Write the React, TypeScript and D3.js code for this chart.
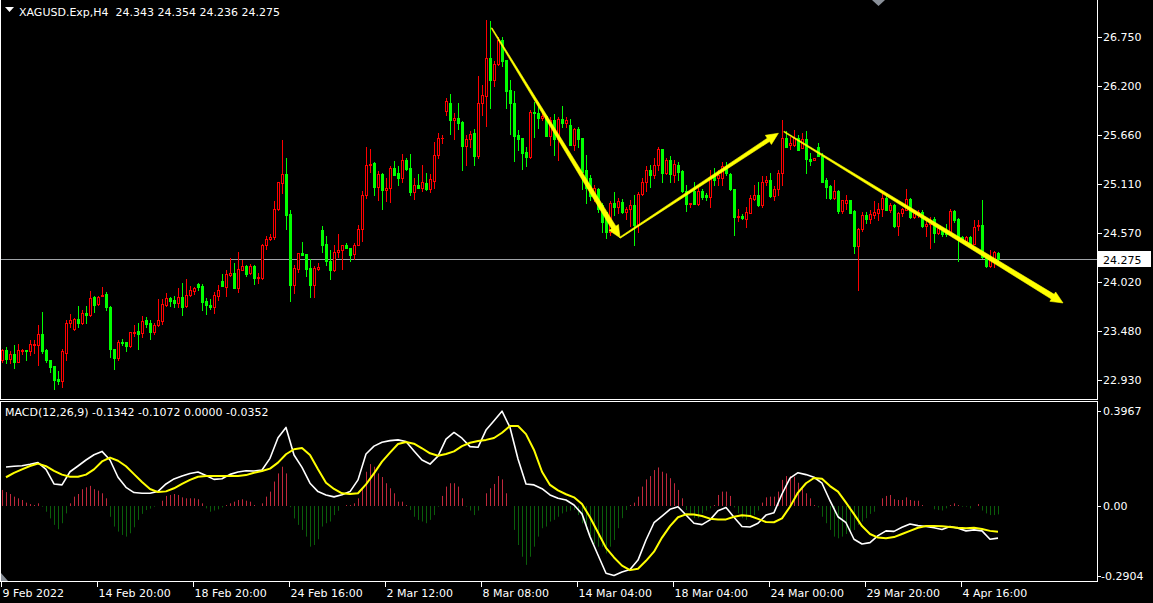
import React from 'react';
import * as d3 from 'd3';

const W = 1153;
const H = 603;

const opens = [
23.15,23.26,23.16,23.22,23.13,23.25,23.26,23.25,23.32,23.32,
23.44,23.26,23.15,23.09,22.94,22.92,23.23,23.56,23.50,23.61,
23.57,23.68,23.65,23.85,23.78,23.86,23.89,23.74,23.28,23.18,
23.35,23.35,23.31,23.45,23.48,23.45,23.60,23.57,23.47,23.54,
23.59,23.77,23.84,23.82,23.79,23.85,23.75,23.88,23.92,24.00,
23.98,23.81,23.77,23.74,23.87,24.03,23.97,24.10,24.12,23.96,
24.16,24.20,24.12,24.20,24.07,24.07,24.43,24.50,24.52,24.83,
25.12,25.22,24.78,23.99,24.17,24.34,24.33,24.18,23.99,24.17,
24.60,24.44,24.26,24.16,24.35,24.38,24.43,24.40,24.33,24.43,
24.61,24.99,25.33,25.35,25.08,25.22,25.05,25.07,25.29,25.23,
25.18,25.38,25.29,25.02,25.10,25.07,25.12,25.06,25.15,25.44,
25.62,25.93,26.02,25.83,25.85,25.80,25.54,25.61,25.68,25.43,
26.01,26.09,26.52,26.27,26.45,26.72,26.49,26.16,26.02,25.66,
25.62,25.47,25.41,25.91,25.90,25.85,25.87,25.65,25.83,25.61,
25.84,25.79,25.77,25.55,25.73,25.62,25.27,25.18,24.98,25.06,
24.88,24.80,24.58,24.90,24.86,24.91,24.80,24.84,24.88,24.66,
25.00,25.13,25.27,25.21,25.33,25.50,25.24,25.38,25.21,25.32,
25.26,25.04,24.89,25.03,24.89,25.03,24.99,24.97,25.20,25.18,
25.18,25.31,25.22,25.06,24.74,24.76,24.72,24.79,24.95,24.99,
24.88,25.13,25.16,24.98,25.06,25.23,25.62,25.55,25.55,25.63,
25.51,25.61,25.39,25.38,25.52,25.42,25.16,25.09,24.96,25.04,
24.81,24.90,24.94,24.81,24.42,24.61,24.77,24.72,24.77,24.79,
24.83,24.96,24.82,24.88,24.64,24.79,24.82,24.95,24.74,24.78,
24.80,24.64,24.67,24.72,24.57,24.59,24.58,24.56,24.81,24.72,
24.52,24.48,24.52,24.45,24.64,24.66,24.30,24.20,24.24,24.343,
];

const highs = [
23.28,23.30,23.25,23.32,23.33,23.28,23.26,23.37,23.37,23.54,
23.69,23.27,23.15,23.09,23.03,23.27,23.60,23.66,23.62,23.75,
23.71,23.75,23.92,23.87,23.87,23.97,23.91,23.75,23.28,23.38,
23.39,23.35,23.47,23.54,23.57,23.64,23.63,23.60,23.56,23.83,
23.83,23.90,23.85,23.87,23.96,24.01,24.06,23.98,23.97,24.01,
24.00,23.84,23.83,23.91,23.99,24.11,24.15,24.29,24.23,24.35,
24.27,24.21,24.22,24.21,24.12,24.45,24.53,24.56,24.92,25.14,
25.60,25.40,24.82,24.21,24.34,24.47,24.33,24.28,24.20,24.23,
24.64,24.53,24.38,24.43,24.56,24.43,24.46,24.40,24.46,24.66,
25.03,25.52,25.50,25.36,25.26,25.23,25.18,25.31,25.37,25.31,
25.45,25.40,25.45,25.18,25.22,25.33,25.23,25.22,25.58,25.68,
25.66,26.07,26.12,25.90,26.01,25.81,25.66,25.70,25.73,26.32,
26.22,26.94,26.93,26.48,26.75,26.75,26.49,26.27,26.15,25.71,
25.62,25.52,25.94,26.03,26.03,25.92,25.88,25.86,25.89,25.86,
25.98,25.86,25.84,25.74,25.75,25.63,25.44,25.21,25.10,25.07,
24.90,24.80,24.92,25.02,24.96,24.95,24.86,24.94,24.99,25.02,
25.18,25.31,25.33,25.40,25.53,25.50,25.40,25.42,25.38,25.36,
25.27,25.10,24.90,25.13,25.07,25.06,25.01,25.27,25.29,25.27,
25.36,25.36,25.23,25.06,24.84,24.78,24.86,24.99,25.10,25.14,
25.20,25.20,25.23,25.09,25.27,25.83,25.70,25.64,25.71,25.66,
25.68,25.70,25.46,25.40,25.57,25.46,25.18,25.10,25.16,25.05,
24.94,24.99,24.94,24.82,24.62,24.80,24.80,24.82,24.92,24.90,
25.02,24.99,24.90,24.89,24.80,24.85,25.06,24.96,24.82,24.82,
24.82,24.73,24.75,24.75,24.66,24.62,24.67,24.83,24.82,24.73,
24.53,24.53,24.53,24.71,24.71,24.94,24.30,24.38,24.37,24.354,
];

const lows = [
23.13,23.12,23.12,23.06,23.13,23.22,23.15,23.21,23.23,23.10,
23.23,23.13,23.02,22.83,22.89,22.85,23.15,23.52,23.49,23.52,
23.55,23.57,23.64,23.69,23.77,23.86,23.71,23.19,23.05,23.15,
23.32,23.25,23.30,23.42,23.28,23.41,23.52,23.39,23.44,23.53,
23.55,23.75,23.75,23.74,23.74,23.65,23.74,23.86,23.89,23.93,
23.71,23.66,23.72,23.68,23.82,23.98,23.87,24.09,23.95,23.91,
24.16,24.09,24.11,24.00,24.01,24.06,24.39,24.49,24.50,24.82,
25.01,24.61,23.81,23.90,24.13,24.32,24.09,23.85,23.85,24.15,
24.36,24.21,24.06,24.14,24.30,24.17,24.40,24.25,24.28,24.43,
24.48,24.96,25.25,24.99,24.94,24.84,24.92,24.91,25.21,25.10,
25.14,25.27,24.99,24.95,25.07,25.04,25.05,25.02,25.07,25.40,
25.57,25.88,25.67,25.61,25.73,25.27,25.33,25.53,25.33,25.40,
25.88,25.76,25.96,26.20,26.44,26.43,25.96,25.67,25.37,25.49,
25.28,25.31,25.40,25.64,25.74,25.83,25.65,25.55,25.44,25.38,
25.75,25.75,25.55,25.49,25.53,25.06,24.90,24.94,24.92,24.80,
24.58,24.51,24.55,24.77,24.79,24.79,24.72,24.64,24.43,24.58,
24.99,25.04,25.08,25.18,25.27,25.14,25.22,25.14,25.14,25.16,
25.02,24.81,24.86,24.89,24.88,24.95,24.94,24.86,25.10,25.10,
25.10,25.21,25.05,24.55,24.70,24.72,24.63,24.79,24.94,24.87,
24.86,25.10,24.97,24.94,24.99,25.10,25.52,25.50,25.54,25.49,
25.51,25.23,25.32,25.38,25.42,25.13,24.96,24.95,24.95,24.79,
24.79,24.84,24.79,24.34,23.93,24.59,24.68,24.68,24.73,24.71,
24.76,24.82,24.80,24.63,24.55,24.76,24.82,24.73,24.73,24.75,
24.63,24.53,24.40,24.47,24.56,24.53,24.53,24.55,24.69,24.25,
24.47,24.47,24.43,24.45,24.60,24.29,24.19,24.19,24.19,24.236,
];

const closes = [
23.26,23.16,23.22,23.13,23.26,23.26,23.25,23.33,23.33,23.44,
23.25,23.15,23.08,22.93,22.92,23.25,23.56,23.60,23.61,23.57,
23.68,23.65,23.84,23.77,23.85,23.88,23.74,23.28,23.18,23.35,
23.34,23.31,23.46,23.47,23.44,23.59,23.55,23.46,23.54,23.60,
23.78,23.84,23.81,23.79,23.85,23.74,23.88,23.93,23.95,23.97,
23.80,23.76,23.74,23.88,23.93,23.98,24.11,24.12,23.95,24.17,
24.20,24.11,24.20,24.07,24.08,24.43,24.50,24.52,24.83,25.13,
25.22,24.77,23.99,24.18,24.34,24.32,24.17,23.99,24.18,24.19,
24.43,24.25,24.16,24.35,24.38,24.43,24.40,24.32,24.43,24.61,
24.99,25.33,25.34,25.08,25.22,25.05,25.07,25.29,25.21,25.18,
25.38,25.28,25.02,25.10,25.07,25.13,25.06,25.17,25.44,25.62,
25.63,26.04,25.83,25.85,25.79,25.54,25.61,25.67,25.43,26.02,
26.10,26.52,26.27,26.45,26.72,26.48,26.15,26.02,25.65,25.61,
25.46,25.41,25.91,25.90,25.85,25.87,25.65,25.83,25.61,25.84,
25.79,25.83,25.55,25.73,25.61,25.25,25.07,24.98,25.07,24.84,
24.69,24.58,24.90,24.86,24.92,24.80,24.84,24.88,24.66,25.00,
25.13,25.27,25.21,25.33,25.50,25.24,25.38,25.22,25.34,25.25,
25.03,24.89,24.90,24.89,25.03,24.97,24.97,25.19,25.16,25.21,
25.31,25.23,25.06,24.75,24.76,24.73,24.80,24.96,24.99,24.88,
25.14,25.16,24.98,25.06,25.24,25.62,25.53,25.57,25.63,25.49,
25.61,25.39,25.37,25.40,25.42,25.14,25.08,24.96,25.04,24.81,
24.93,24.94,24.79,24.42,24.61,24.77,24.72,24.78,24.80,24.83,
24.96,24.82,24.88,24.64,24.79,24.83,24.95,24.74,24.79,24.80,
24.64,24.67,24.71,24.57,24.62,24.56,24.56,24.81,24.71,24.51,
24.48,24.52,24.45,24.63,24.66,24.30,24.20,24.27,24.35,24.275,
];

// MACD main and signal, read at the odd bars 1, 3, 5, ... 249
const macdLine = [
0.163,0.166,0.168,0.174,0.181,0.153,0.092,0.088,0.143,0.167,
0.192,0.214,0.228,0.192,0.120,0.078,0.056,0.053,0.053,0.061,
0.092,0.113,0.125,0.136,0.142,0.127,0.111,0.114,0.132,0.142,
0.147,0.146,0.150,0.199,0.285,0.328,0.213,0.161,0.095,0.060,
0.046,0.038,0.047,0.060,0.109,0.217,0.250,0.266,0.273,0.276,
0.269,0.230,0.192,0.175,0.208,0.279,0.307,0.283,0.248,0.245,
0.317,0.356,0.396,0.328,0.196,0.092,0.088,0.072,0.046,0.032,
0.025,0.004,-0.033,-0.128,-0.205,-0.281,-0.290,-0.276,-0.265,-0.226,
-0.142,-0.070,-0.042,-0.014,-0.003,-0.038,-0.072,-0.078,-0.058,-0.020,
-0.006,-0.047,-0.086,-0.088,-0.072,-0.038,-0.028,0.050,0.116,0.139,
0.131,0.120,0.095,0.022,-0.045,-0.070,-0.139,-0.159,-0.153,-0.124,
-0.104,-0.106,-0.089,-0.075,-0.082,-0.086,-0.091,-0.098,-0.086,-0.093,
-0.104,-0.100,-0.104,-0.139,-0.1342,
];

const signalLine = [
0.120,0.138,0.153,0.167,0.177,0.166,0.147,0.131,0.122,0.122,
0.131,0.153,0.186,0.202,0.189,0.166,0.133,0.100,0.071,0.058,
0.061,0.074,0.092,0.109,0.122,0.125,0.125,0.125,0.125,0.125,
0.129,0.139,0.146,0.156,0.181,0.216,0.237,0.242,0.213,0.153,
0.097,0.071,0.053,0.050,0.053,0.090,0.136,0.185,0.223,0.259,
0.267,0.260,0.241,0.220,0.210,0.217,0.228,0.250,0.264,0.271,
0.276,0.284,0.306,0.334,0.334,0.300,0.234,0.143,0.088,0.065,
0.049,0.036,0.008,-0.047,-0.111,-0.175,-0.215,-0.249,-0.268,-0.262,
-0.229,-0.191,-0.132,-0.084,-0.047,-0.035,-0.036,-0.042,-0.053,-0.056,
-0.056,-0.045,-0.039,-0.042,-0.054,-0.067,-0.068,-0.052,-0.003,0.056,
0.095,0.117,0.114,0.083,0.060,0.014,-0.034,-0.084,-0.117,-0.132,
-0.135,-0.130,-0.117,-0.104,-0.091,-0.084,-0.084,-0.085,-0.088,-0.091,
-0.093,-0.091,-0.096,-0.104,-0.1072,
];

const histogram = [
0.067,0.058,0.050,0.039,0.032,0.025,0.014,0.008,0.004,0.011,
-0.003,-0.024,-0.052,-0.079,-0.097,-0.072,-0.031,0.011,0.039,0.050,
0.070,0.078,0.084,0.070,0.064,0.053,0.032,-0.045,-0.086,-0.107,
-0.121,-0.128,-0.114,-0.089,-0.058,-0.033,-0.017,-0.011,-0.003,-0.001,
0.022,0.042,0.046,0.050,0.046,0.036,0.032,0.032,0.032,0.028,
0.011,-0.010,-0.024,-0.019,-0.014,-0.006,0.004,0.011,0.018,0.025,
0.028,0.022,0.018,0.004,0.002,0.011,0.039,0.060,0.102,0.136,
0.164,0.136,-0.005,-0.052,-0.079,-0.100,-0.128,-0.170,-0.163,-0.139,
-0.086,-0.072,-0.065,-0.038,-0.020,0.001,0.004,0.004,0.011,0.032,
0.074,0.143,0.175,0.164,0.136,0.121,0.095,0.074,0.053,0.018,
0.018,0.004,-0.017,-0.045,-0.058,-0.065,-0.072,-0.058,-0.038,-0.003,
0.042,0.081,0.095,0.095,0.081,0.032,-0.003,-0.019,-0.038,-0.019,
0.001,0.053,0.074,0.092,0.125,0.111,0.053,0.001,-0.100,-0.163,
-0.212,-0.246,-0.212,-0.170,-0.128,-0.093,-0.086,-0.065,-0.058,-0.045,
-0.031,-0.024,-0.019,-0.017,-0.038,-0.072,-0.100,-0.128,-0.159,-0.170,
-0.170,-0.198,-0.170,-0.142,-0.093,-0.051,-0.017,0.004,0.014,0.039,
0.081,0.111,0.125,0.150,0.161,0.143,0.136,0.116,0.095,0.067,
0.032,-0.017,-0.031,-0.051,-0.051,-0.031,-0.019,-0.010,0.004,0.046,
0.060,0.060,0.042,-0.006,-0.031,-0.051,-0.058,-0.045,-0.038,-0.019,
0.014,0.036,0.039,0.039,0.060,0.109,0.125,0.125,0.122,0.097,
0.074,0.053,0.032,0.004,-0.006,-0.045,-0.072,-0.100,-0.128,-0.135,
-0.128,-0.117,-0.107,-0.100,-0.079,-0.065,-0.051,-0.033,-0.024,0.001,
0.032,0.042,0.046,0.028,0.025,0.025,0.036,0.025,0.022,0.022,
0.004,0.000,0.000,-0.014,-0.017,-0.019,-0.010,0.004,0.011,0.004,
-0.003,-0.003,-0.010,0.000,0.008,-0.019,-0.031,-0.038,-0.038,-0.0352,
];

const timeLabels = [
  '9 Feb 2022', '14 Feb 20:00', '18 Feb 20:00', '24 Feb 16:00', '2 Mar 12:00',
  '8 Mar 08:00', '14 Mar 04:00', '18 Mar 04:00', '24 Mar 00:00', '29 Mar 20:00', '4 Apr 16:00',
];
const barsPerLabel = 24;

const priceTicks = [26.75, 26.2, 25.66, 25.11, 24.57, 24.02, 23.48, 22.93];
const macdTicks = [0.3967, 0, -0.2904];
const macdTickText = ['0.3967', '0.00', '-0.2904'];

const symbolTitle = 'XAGUSD.Exp,H4';
const lastPrice = 24.275;
const macdTitle = 'MACD(12,26,9) -0.1342 -0.1072 0.0000 -0.0352';

// user-drawn trend arrows: [barFrom, priceFrom, barTo, priceTo, startWidth, endWidth]
const trendArrows = [
  [122.4, 26.85, 154.5, 24.515, 1, 5],
  [154.5, 24.515, 194.1, 25.678, 1.2, 4],
  [195.5, 25.696, 265.25, 23.788, 1, 5.5],
];

const FONT = 'DejaVu Sans';
const AXIS_X = 1097;
const PRICE_BOTTOM = 399;
const MACD_TOP = 401;
const MACD_BOTTOM = 581;

export default function App() {
  const n = closes.length;
  const x = d3.scaleLinear().domain([0, n - 1]).range([2, 2 + 4 * (n - 1)]);
  const y = d3.scaleLinear().domain([22.93, 26.75]).range([380, 37]);
  const ym = d3.scaleLinear().domain([-0.2904, 0.3967]).range([575.5, 411]);

  const candles = closes.map((c, i) => {
    const o = opens[i];
    const cx = Math.round(x(i));
    const yo = Math.round(y(o));
    const yc = Math.round(y(c));
    const yh = Math.round(y(highs[i]));
    const yl = Math.round(y(lows[i]));
    const bull = c > o;
    const col = bull ? '#ff0000' : '#00ff00';
    let body;
    if (bull) {
      if (yo - yc < 1) body = <rect x={cx - 1} y={yc} width={3} height={1} fill={col} />;
      else body = <rect x={cx - 0.5} y={yc + 0.5} width={2} height={yo - yc} fill="#000" stroke={col} strokeWidth={1} />;
    } else {
      body = <rect x={cx - 1} y={yo} width={3} height={Math.max(yc - yo + 1, 1)} fill={col} />;
    }
    return (
      <g key={i}>
        <rect x={cx} y={yh} width={1} height={yl - yh + 1} fill={col} />
        {body}
      </g>
    );
  });

  const y0 = ym(0);
  const hist = histogram.map((v, i) => {
    const cx = Math.round(x(i));
    const yv = ym(v);
    const top = Math.min(y0, yv);
    const h = Math.abs(yv - y0);
    if (h < 0.5) return null;
    return <rect key={i} x={cx} y={top} width={1} height={h} fill={v >= 0 ? '#c0283c' : '#0a5e0a'} />;
  });

  const lineGen = d3.line<number>().x((_, k) => x(2 * k + 1)).y((v) => ym(v));

  const arrowPoly = (a: number[]) => {
    const [b0, p0, b1, p1, w0, w1] = a;
    const x0 = x(b0), y0a = y(p0), x1 = x(b1), y1 = y(p1);
    const dx = x1 - x0, dy = y1 - y0a;
    const L = Math.hypot(dx, dy);
    const ux = dx / L, uy = dy / L;
    const nx = -uy, ny = ux;
    const headLen = 12, headHalf = 5.5;
    const bx = x1 - ux * headLen, by = y1 - uy * headLen;
    const pts = [
      [x0 + nx * w0 / 2, y0a + ny * w0 / 2],
      [bx + nx * w1 / 2, by + ny * w1 / 2],
      [bx + nx * headHalf, by + ny * headHalf],
      [x1, y1],
      [bx - nx * headHalf, by - ny * headHalf],
      [bx - nx * w1 / 2, by - ny * w1 / 2],
      [x0 - nx * w0 / 2, y0a - ny * w0 / 2],
    ];
    return pts.map((p) => p.join(',')).join(' ');
  };

  const yLast = Math.round(y(lastPrice)) + 0.5;

  return (
    <svg width={W} height={H} style={{ position: 'absolute', left: 0, top: 0, display: 'block', background: '#000' }}
      fontFamily={FONT} fontSize={11}>
      <defs>
        <clipPath id="pricePane"><rect x={1} y={0} width={AXIS_X - 1} height={PRICE_BOTTOM} /></clipPath>
        <clipPath id="macdPane"><rect x={1} y={MACD_TOP + 1} width={AXIS_X - 1} height={MACD_BOTTOM - MACD_TOP - 1} /></clipPath>
      </defs>
      <rect x={0} y={0} width={W} height={H} fill="#000" />

      {/* price pane */}
      <g clipPath="url(#pricePane)">
        <line x1={0} x2={AXIS_X} y1={yLast} y2={yLast} stroke="#a0a4a8" strokeWidth={1} />
        {candles}
        {trendArrows.map((a, i) => (
          <polygon key={i} points={arrowPoly(a)} fill="#ffff00" stroke="#ffff00" strokeWidth={0.6} strokeLinejoin="round" />
        ))}
      </g>

      {/* macd pane */}
      <g clipPath="url(#macdPane)">
        {hist}
        <path d={lineGen(macdLine) || ''} fill="none" stroke="#ffffff" strokeWidth={1.6} strokeLinejoin="round" />
        <path d={lineGen(signalLine) || ''} fill="none" stroke="#ffff00" strokeWidth={2} strokeLinejoin="round" />
      </g>

      {/* frames */}
      <g stroke="#ffffff" strokeWidth={1} fill="none" shapeRendering="crispEdges">
        <line x1={0.5} x2={0.5} y1={0} y2={PRICE_BOTTOM} />
        <line x1={0} x2={AXIS_X} y1={PRICE_BOTTOM + 0.5} y2={PRICE_BOTTOM + 0.5} />
        <line x1={0} x2={AXIS_X} y1={MACD_TOP + 0.5} y2={MACD_TOP + 0.5} />
        <line x1={0.5} x2={0.5} y1={MACD_TOP} y2={MACD_BOTTOM} />
        <line x1={0} x2={AXIS_X + 1} y1={MACD_BOTTOM + 0.5} y2={MACD_BOTTOM + 0.5} />
        <line x1={AXIS_X + 0.5} x2={AXIS_X + 0.5} y1={0} y2={PRICE_BOTTOM + 1} />
        <line x1={AXIS_X + 0.5} x2={AXIS_X + 0.5} y1={MACD_TOP} y2={MACD_BOTTOM + 1} />
      </g>

      {/* price axis */}
      {priceTicks.map((v) => {
        const yy = Math.round(y(v));
        return (
          <g key={v}>
            <line x1={AXIS_X} x2={AXIS_X + 5} y1={yy + 0.5} y2={yy + 0.5} stroke="#fff" shapeRendering="crispEdges" />
            <text x={AXIS_X + 6} y={yy + 4} fill="#ffffff">{v.toFixed(3)}</text>
          </g>
        );
      })}
      <rect x={AXIS_X + 1} y={yLast - 8.5} width={53} height={16} fill="#ffffff" />
      <text x={AXIS_X + 6} y={yLast + 4} fill="#000000">{lastPrice.toFixed(3)}</text>

      {/* macd axis */}
      {macdTicks.map((v, i) => {
        const yy = Math.round(ym(v));
        return (
          <g key={i}>
            <line x1={AXIS_X} x2={AXIS_X + 4} y1={yy + 0.5} y2={yy + 0.5} stroke="#fff" shapeRendering="crispEdges" />
            <text x={v < 0 ? AXIS_X + 4 : AXIS_X + 6} y={yy + 4} fill="#ffffff">{macdTickText[i]}</text>
          </g>
        );
      })}

      {/* time axis */}
      {timeLabels.map((t, k) => {
        const tx = Math.round(x(k * barsPerLabel)) - 0.5;
        return (
          <g key={t}>
            <line x1={tx} x2={tx} y1={MACD_BOTTOM} y2={MACD_BOTTOM + 6} stroke="#fff" shapeRendering="crispEdges" />
            <text x={tx + 1} y={597} fill="#ffffff">{t}</text>
          </g>
        );
      })}

      {/* titles */}
      <path d="M5,7 L14,7 L9.5,12 Z" fill="#ffffff" />
      <text x={19} y={16} fill="#ffffff" style={{ whiteSpace: 'pre' }}>
        {`${symbolTitle}  ${opens[n - 1].toFixed(3)} ${highs[n - 1].toFixed(3)} ${lows[n - 1].toFixed(3)} ${closes[n - 1].toFixed(3)}`}
      </text>
      <text x={5} y={416} fill="#ffffff">{macdTitle}</text>

      {/* chart shift markers */}
      <path d="M872,0 L885,0 L878.5,6 Z" fill="#8a9099" />
      <path d="M1,573 L1,581 L8,581 Z" fill="#8a9099" />
    </svg>
  );
}
